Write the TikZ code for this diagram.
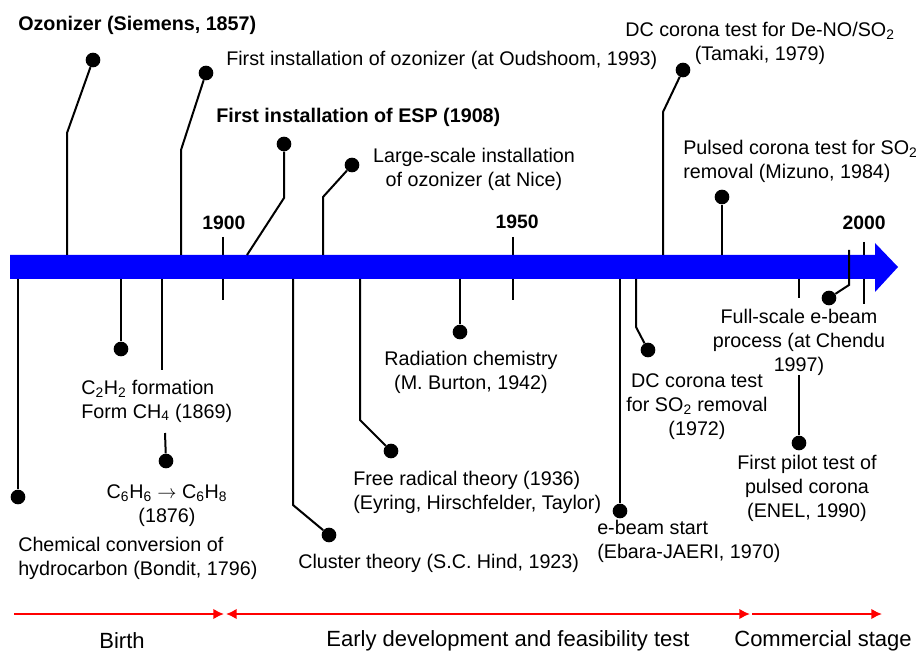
\documentclass[tikz,border=0pt]{standalone}
\usepackage{fontspec}
\setmainfont{Liberation Sans}
\usetikzlibrary{arrows.meta}
\tikzset{
  dot/.style={circle, fill=black, inner sep=0pt, minimum size=11pt},
  conn/.style={line width=1.5pt},
  evt/.style={inner sep=0pt, font=\fontsize{14.8}{18}\selectfont},
  evtb/.style={inner sep=0pt, font=\fontsize{14.8}{18}\selectfont\bfseries},
  yr/.style={inner sep=0pt, font=\fontsize{14.5}{17}\selectfont\bfseries},
  phase/.style={red, line width=1.5pt},
  stage/.style={inner sep=0pt, font=\fontsize{16.5}{20}\selectfont},
  tip/.tip={Latex[length=8pt,width=8pt]},
}

\begin{document}
\begin{tikzpicture}[x=0.75pt,y=-0.75pt]
		\useasboundingbox (0,0) rectangle (920,655);
		
		%year ticks
		\draw[conn] (223,237) -- (223,300);
		\draw[conn] (513,237) -- (513,300);
		\draw[conn] (864,242) -- (864,304);
		
		%timeline
		\fill[blue] (10,255) -- (875,255) -- (875,243) -- (898,267) -- (875,292) -- (875,279) -- (10,279) -- cycle;
		\node[yr] (y1900) at (224,223) {1900};
		\node[yr] (y1950) at (517,222) {1950};
		\node[yr] (y2000) at (864,223) {2000};
		
		%events above
		\coordinate (ozo) at (67,255);
		\node[dot] (dozo) at (93,60) {};
		\draw[conn] (ozo) -- ++(0,-122) -- (dozo);
		\node[evtb, anchor=west] (lozo) at (18,25) {Ozonizer (Siemens, 1857)};
		
		\coordinate (oud) at (181,255);
		\node[dot] (doud) at (206,73) {};
		\draw[conn] (oud) -- ++(0,-105) -- (doud);
		\node[evt, anchor=west] (loud) at (226,60) {First installation of ozonizer (at Oudshoom, 1993)};
		
		\coordinate (esp) at (247,255);
		\node[dot] (desp) at (284,144) {};
		\draw[conn] (esp) -- (284,198) -- (desp);
		\node[evtb, anchor=west] (lesp) at (216,117) {First installation of ESP (1908)};
		
		\coordinate (nice) at (323,255);
		\node[dot] (dnice) at (352,165) {};
		\draw[conn] (nice) -- ++(0,-58) -- (dnice);
		\node[evt, align=center] (lnice) at (474,169) {Large-scale installation\\of ozonizer (at Nice)};
		
		\coordinate (tam) at (663,255);
		\node[dot] (dtam) at (683,70) {};
		\draw[conn] (tam) -- ++(0,-143) -- (dtam);
		\node[evt, align=center] (ltam) at (760,43) {DC corona test for De-NO/SO\textsubscript{2}\\(Tamaki, 1979)};
		
		\coordinate (miz) at (722,255);
		\node[dot] (dmiz) at (722,197) {};
		\draw[conn] (miz) -- (dmiz);
		\node[evt, align=left, anchor=west] (lmiz) at (683,161) {Pulsed corona test for SO\textsubscript{2}\\removal (Mizuno, 1984)};
		
		%events below
		\coordinate (bon) at (18,279);
		\node[dot] (dbon) at (18,497) {};
		\draw[conn] (bon) -- (dbon);
		\node[evt, align=left, anchor=west] (lbon) at (18,558) {Chemical conversion of\\hydrocarbon (Bondit, 1796)};
		
		\coordinate (ch) at (121,279);
		\node[dot] (dch) at (121,349) {};
		\draw[conn] (ch) -- (dch);
		\node[evt, align=left, anchor=west] (lch) at (81,401) {C\textsubscript{2}H\textsubscript{2} formation\\Form CH\textsubscript{4} (1869)};
		
		\coordinate (bz) at (162,279);
		\coordinate (bzend) at (162,370);
		\coordinate (bzstart) at (165,433);
		\node[dot] (dbz) at (166,461) {};
		\draw[conn] (bz) -- (bzend);
		\draw[conn] (bzstart) -- (dbz);
		\node[evt, align=center] (lbz) at (167,506) {C\textsubscript{6}H\textsubscript{6} $\rightarrow$ C\textsubscript{6}H\textsubscript{8}\\(1876)};
		
		\coordinate (hind) at (293,279);
		\node[dot] (dhind) at (329,535) {};
		\draw[conn] (hind) -- ++(0,226) -- (dhind);
		\node[evt, anchor=west] (lhind) at (298,563) {Cluster theory (S.C. Hind, 1923)};
		
		\coordinate (rad) at (360,279);
		\node[dot] (drad) at (391,451) {};
		\draw[conn] (rad) -- ++(0,141) -- (drad);
		\node[evt, align=left, anchor=west] (lrad) at (353,492) {Free radical theory (1936)\\(Eyring, Hirschfelder, Taylor)};
		
		\coordinate (bur) at (460,279);
		\node[dot] (dbur) at (460,332) {};
		\draw[conn] (bur) -- (dbur);
		\node[evt, align=center] (lbur) at (471,372) {Radiation chemistry\\(M. Burton, 1942)};
		
		\coordinate (ebe) at (620,279);
		\node[dot] (debe) at (620,511) {};
		\draw[conn] (ebe) -- (debe);
		\node[evt, align=left, anchor=west] (lebe) at (597,541) {e-beam start\\(Ebara-JAERI, 1970)};
		
		\coordinate (dcs) at (636,279);
		\node[dot] (ddcs) at (648,350) {};
		\draw[conn] (dcs) -- ++(0,48) -- (ddcs);
		\node[evt, align=center] (ldcs) at (697,407) {DC corona test\\for SO\textsubscript{2} removal\\(1972)};
		
		\coordinate (enel) at (799,279);
		\coordinate (enelend) at (799,298);
		\coordinate (enelstart) at (799,375);
		\node[dot] (denel) at (799,443) {};
		\draw[conn] (enel) -- (enelend);
		\draw[conn] (enelstart) -- (denel);
		\node[evt, align=center] (lenel) at (807,488) {First pilot test of\\pulsed corona\\(ENEL, 1990)};
		
		\coordinate (chd) at (849,250);
		\node[dot] (dchd) at (829,298) {};
		\draw[conn] (chd) -- (849,285) -- (dchd);
		\node[evt, align=center] (lchd) at (799,342) {Full-scale e-beam\\process (at Chendu\\1997)};
		
		%stages
		\coordinate (p0) at (14,614);
		\coordinate (p1) at (225,614);
		\coordinate (p2) at (751,614);
		\coordinate (p3) at (882,614);
		\draw[phase, -tip, shorten >=0.75pt] (p0) -- (p1);
		\draw[phase, tip-tip, shorten <=0.75pt, shorten >=0.75pt] (p1) -- (p2);
		\draw[phase, -tip, shorten <=0.75pt] (p2) -- (p3);
		\node[stage] (sbirth) at (122,641) {Birth};
		\node[stage] (searly) at (508,641) {Early development and feasibility test};
		\node[stage] (scomm) at (823,641) {Commercial stage};
\end{tikzpicture}
\end{document}
